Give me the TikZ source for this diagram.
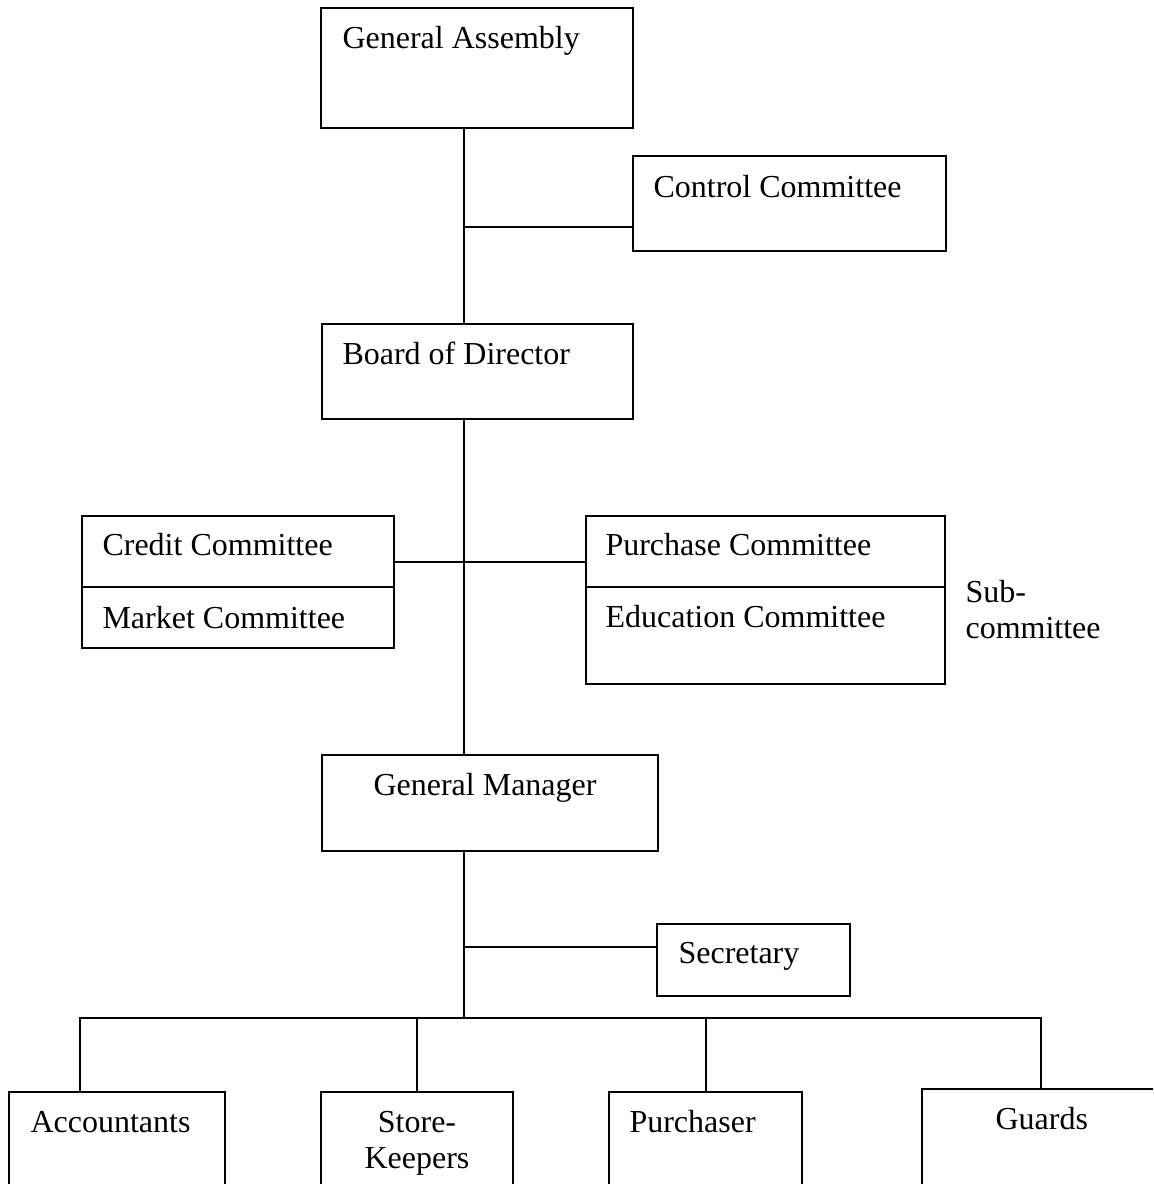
\documentclass[tikz,border=0pt]{standalone}
\usepackage{fontspec}
\setmainfont{Liberation Serif}
\usepackage{tikz}

\tikzset{
  orgbox/.style 2 args={draw, line width=0.75pt, inner sep=0pt, anchor=north west,
    minimum width=#1*0.375pt, minimum height=#2*0.375pt},
  lbl/.style={anchor=base west, inner sep=0pt, font=\fontsize{12}{13.5}\selectfont},
  wire/.style={line width=0.75pt},
}

\begin{document}
\begin{tikzpicture}[x=0.375pt,y=0.375pt,yscale=-1,xscale=1]
\useasboundingbox (0,0) rectangle (1153,1184);
\clip (0,0) rectangle (1153,1184);

%Shape: Rectangle
\node[orgbox={312}{120}] (ga) at (320,7) {};
%Shape: Rectangle
\node[orgbox={313}{95}] (ctrl) at (632,155) {};
%Shape: Rectangle
\node[orgbox={311}{95}] (bod) at (321,323) {};
%Shape: Rectangle
\node[orgbox={312}{132}] (cred) at (81,515) {};
%Shape: Rectangle
\node[orgbox={359}{168}] (purc) at (585,515) {};
%Shape: Rectangle
\node[orgbox={336}{96}] (gm) at (321,754) {};
%Shape: Rectangle
\node[orgbox={193}{72}] (sec) at (656,923) {};
%Shape: Rectangle
\node[orgbox={216}{120}] (acc) at (8,1091) {};
%Shape: Rectangle
\node[orgbox={192}{120}] (store) at (320,1091) {};
%Shape: Rectangle
\node[orgbox={193}{120}] (buyer) at (608,1091) {};
%Shape: Rectangle
\node[orgbox={260}{120}] (guard) at (921,1088) {};

% junctions on the main line
\coordinate (jctrl) at (464,227);
\coordinate (jcom) at (464,562);
\coordinate (jsec) at (464,947);
\coordinate (jbar) at (464,1018);
\coordinate (dacc) at (80,1018);
\coordinate (dguard) at (1041,1018);

%Straight Lines
\draw[wire] (ga.south -| jctrl) -- (bod.north -| jctrl);
%Straight Lines
\draw[wire] (jctrl) -- (jctrl -| ctrl.west);
%Straight Lines
\draw[wire] (bod.south -| jcom) -- (gm.north -| jcom);
%Straight Lines
\draw[wire] (jcom -| cred.east) -- (jcom -| purc.west);
%Straight Lines
\draw[wire] ([shift={(0,72)}]cred.north west) -- ([shift={(0,72)}]cred.north east);
%Straight Lines
\draw[wire] ([shift={(0,72)}]purc.north west) -- ([shift={(0,72)}]purc.north east);
%Straight Lines
\draw[wire] (gm.south -| jsec) -- (jbar);
%Straight Lines
\draw[wire] (jsec) -- (jsec -| sec.west);
%Straight Lines
\draw[wire] (dacc |- acc.north) -- (dacc) -- (dguard) -- (dguard |- guard.north);
%Straight Lines
\draw[wire] (jbar -| store.north) -- (store.north);
%Straight Lines
\draw[wire] (jbar -| buyer.north) -- (buyer.north);

% Text Node
\node[lbl] (gat) at ([shift={(22,42)}]ga.north west) {General Assembly};
% Text Node
\node[lbl] (ctrlt) at ([shift={(21,42)}]ctrl.north west) {Control Committee};
% Text Node
\node[lbl] (bodt) at ([shift={(21,41)}]bod.north west) {Board of Director};
% Text Node
\node[lbl] (credt) at ([shift={(21,40)}]cred.north west) {Credit Committee};
% Text Node
\node[lbl] (markt) at ([shift={(21,113)}]cred.north west) {Market Committee};
% Text Node
\node[lbl] (purct) at ([shift={(20,40)}]purc.north west) {Purchase Committee};
% Text Node
\node[lbl] (educt) at ([shift={(20,112)}]purc.north west) {Education Committee};
% Text Node
\node[lbl, align=left] (subt) at (965,638) {Sub-\\committee};
% Text Node
\node[lbl] (gmt) at ([shift={(52,41)}]gm.north west) {General Manager};
% Text Node
\node[lbl] (sect) at ([shift={(22,40)}]sec.north west) {Secretary};
% Text Node
\node[lbl] (acct) at ([shift={(22,41)}]acc.north west) {Accountants};
% Text Node
\node[lbl, anchor=base, align=center] (storet) at ([shift={(0,77)}]store.north) {Store-\\Keepers};
% Text Node
\node[lbl] (buyert) at ([shift={(21,41)}]buyer.north west) {Purchaser};
% Text Node
\node[lbl] (guardt) at ([shift={(74,41)}]guard.north west) {Guards};

\end{tikzpicture}
\end{document}
